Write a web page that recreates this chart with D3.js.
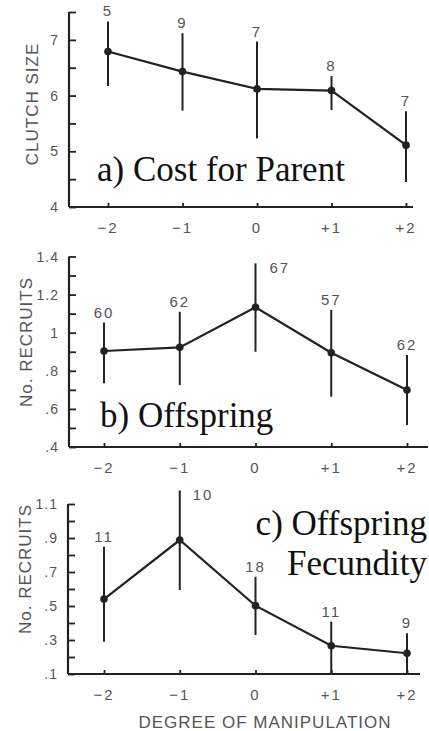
<!DOCTYPE html>
<html>
<head>
<meta charset="utf-8">
<script src="https://cdn.jsdelivr.net/npm/d3@7"></script>
<style>
  html, body { margin: 0; padding: 0; background: #fff; }
  svg { display: block; }
  .tick-label { font-family: "Liberation Sans", Arial, sans-serif; fill: #555; }
  .axis-title { font-family: "Liberation Sans", Arial, sans-serif; fill: #555; }
  .panel-title { font-family: "Liberation Serif", "Times New Roman", serif; fill: #111; }
</style>
</head>
<body>
<script>
// Degree of brood manipulation (x categories)
const manipulation = [-2, -1, 0, 1, 2];
const manipulationLabels = ["\u22122", "\u22121", "0", "+1", "+2"];

// a) Cost for Parent: clutch size
const clutchMean = [6.79, 6.43, 6.12, 6.09, 5.11];
const clutchLow  = [6.17, 5.73, 5.23, 5.74, 4.45];
const clutchHigh = [7.33, 7.12, 6.97, 6.35, 5.72];
const clutchN    = [5, 9, 7, 8, 7];
const clutchTicks = [4, 5, 6, 7];
const clutchTickLabels = ["4", "5", "6", "7"];

// b) Offspring: number of recruits
const recruitsMean = [0.904, 0.923, 1.133, 0.895, 0.699];
const recruitsLow  = [0.734, 0.725, 0.900, 0.664, 0.515];
const recruitsHigh = [1.053, 1.110, 1.364, 1.119, 0.883];
const recruitsN    = [60, 62, 67, 57, 62];
const recruitsTicks = [0.4, 0.6, 0.8, 1.0, 1.2, 1.4];
const recruitsTickLabels = [".4", ".6", ".8", "1", "1.2", "1.4"];

// c) Offspring fecundity: number of recruits produced by offspring
const fecundMean = [0.541, 0.888, 0.502, 0.266, 0.222];
const fecundLow  = [0.290, 0.594, 0.329, 0.100, 0.100];
const fecundHigh = [0.849, 1.180, 0.672, 0.408, 0.339];
const fecundN    = [11, 10, 18, 11, 9];
const fecundTicks = [0.1, 0.3, 0.5, 0.7, 0.9, 1.1];
const fecundTickLabels = [".1", ".3", ".5", ".7", ".9", "1.1"];

const W = 429, H = 731;
const svg = d3.select("body").append("svg").attr("width", W).attr("height", H);

const ink = "#222";

function panel(cfg) {
  const g = svg.append("g");
  const x = d3.scaleLinear().domain([-2, 2]).range(cfg.xRange);
  const y = d3.scaleLinear().domain(cfg.yDomain).range(cfg.yRange);

  // y axis: ticks point inward, minor ticks in between
  const yAxis = d3.axisRight(y)
    .tickValues(d3.range(cfg.yDomain[0], cfg.yDomain[1] + 1e-9, cfg.minorStep).map(v => +v.toFixed(3)))
    .tickSize(7).tickFormat("");
  const ya = g.append("g").attr("transform", `translate(${cfg.axisX},0)`).call(yAxis);
  ya.select(".domain").attr("d", `M0,${y(cfg.yDomain[1])}V${cfg.baseY}`).attr("stroke", ink).attr("stroke-width", 2.2);
  ya.selectAll(".tick line").attr("stroke", ink).attr("stroke-width", 1.8);

  // y tick labels
  g.selectAll(".ylab").data(cfg.yTicks).join("text")
    .attr("class", "tick-label")
    .attr("x", cfg.axisX - 10)
    .attr("y", d => y(d) + 5)
    .attr("text-anchor", "end")
    .attr("font-size", 14)
    .attr("letter-spacing", 1)
    .text((d, i) => cfg.yTickLabels[i]);

  // x axis: short ticks pointing up
  const xAxis = d3.axisTop(x).tickValues(manipulation).tickSize(4).tickFormat("");
  const xa = g.append("g").attr("transform", `translate(0,${cfg.baseY})`).call(xAxis);
  xa.select(".domain").attr("d", `M${cfg.axisX},0H${cfg.xEnd}`).attr("stroke", ink).attr("stroke-width", 2.2);
  xa.selectAll(".tick line").attr("stroke", ink).attr("stroke-width", 1.8);

  g.selectAll(".xlab").data(manipulation).join("text")
    .attr("class", "tick-label")
    .attr("x", d => x(d))
    .attr("y", cfg.baseY + 26)
    .attr("text-anchor", "middle")
    .attr("font-size", 15)
    .attr("letter-spacing", 2)
    .text((d, i) => manipulationLabels[i]);

  // y axis title
  g.append("text")
    .attr("class", "axis-title")
    .attr("transform", `translate(${cfg.titleX},${cfg.titleY}) rotate(-90)`)
    .attr("text-anchor", "middle")
    .attr("font-size", 17)
    .attr("letter-spacing", 1)
    .text(cfg.yTitle);

  // error bars
  g.selectAll(".err").data(manipulation).join("line")
    .attr("x1", d => x(d)).attr("x2", d => x(d))
    .attr("y1", (d, i) => y(cfg.low[i]))
    .attr("y2", (d, i) => y(cfg.high[i]))
    .attr("stroke", ink).attr("stroke-width", 2);

  // mean line
  const line = d3.line().x((d, i) => x(manipulation[i])).y(d => y(d));
  g.append("path").datum(cfg.mean)
    .attr("d", line).attr("fill", "none")
    .attr("stroke", ink).attr("stroke-width", 2.2);

  // mean points
  g.selectAll(".pt").data(cfg.mean).join("circle")
    .attr("cx", (d, i) => x(manipulation[i]))
    .attr("cy", d => y(d))
    .attr("r", 3.8).attr("fill", ink);

  // sample sizes
  g.selectAll(".n").data(cfg.n).join("text")
    .attr("class", "tick-label")
    .attr("x", (d, i) => x(manipulation[i]) + (cfg.nShift[i] || 0))
    .attr("y", (d, i) => y(cfg.high[i]) + (cfg.nShift[i] ? 10 : -5))
    .attr("text-anchor", (d, i) => cfg.nShift[i] ? "start" : "middle")
    .attr("font-size", 15)
    .attr("letter-spacing", 2)
    .text(d => d);

  // panel title, one text element per line
  cfg.label.forEach((s, i) => {
    g.append("text").attr("class", "panel-title").attr("font-size", 35)
      .attr("text-anchor", cfg.labelAnchor || "start")
      .attr("x", cfg.labelPos[i][0]).attr("y", cfg.labelPos[i][1]).text(s);
  });
}

panel({
  xRange: [108, 406], yDomain: [4, 7.5], yRange: [207, 12], axisX: 69, baseY: 207, xEnd: 413,
  minorStep: 0.5, yTicks: clutchTicks, yTickLabels: clutchTickLabels,
  mean: clutchMean, low: clutchLow, high: clutchHigh, n: clutchN, nShift: [],
  yTitle: "CLUTCH SIZE", titleX: 38, titleY: 104,
  label: ["a) Cost for Parent"], labelPos: [[97, 181]]
});

panel({
  xRange: [104, 407], yDomain: [0.4, 1.4], yRange: [447, 256.5], axisX: 69, baseY: 447, xEnd: 428,
  minorStep: 0.1, yTicks: recruitsTicks, yTickLabels: recruitsTickLabels,
  mean: recruitsMean, low: recruitsLow, high: recruitsHigh, n: recruitsN, nShift: [0, 0, 14, 0, 0],
  yTitle: "No. RECRUITS", titleX: 32, titleY: 342,
  label: ["b) Offspring"], labelPos: [[100, 427]]
});

panel({
  xRange: [104, 407], yDomain: [0.1, 1.1], yRange: [674, 504], axisX: 68, baseY: 674, xEnd: 420,
  minorStep: 0.1, yTicks: fecundTicks, yTickLabels: fecundTickLabels,
  mean: fecundMean, low: fecundLow, high: fecundHigh, n: fecundN, nShift: [0, 13, 0, 0, 0],
  yTitle: "No. RECRUITS", titleX: 31, titleY: 569,
  label: ["c) Offspring", "Fecundity"], labelPos: [[427, 535], [427, 575]], labelAnchor: "end"
});

// shared x axis title
svg.append("text")
  .attr("class", "axis-title")
  .attr("x", 265).attr("y", 728)
  .attr("text-anchor", "middle")
  .attr("font-size", 17)
  .attr("letter-spacing", 1)
  .text("DEGREE OF MANIPULATION");
</script>
</body>
</html>
